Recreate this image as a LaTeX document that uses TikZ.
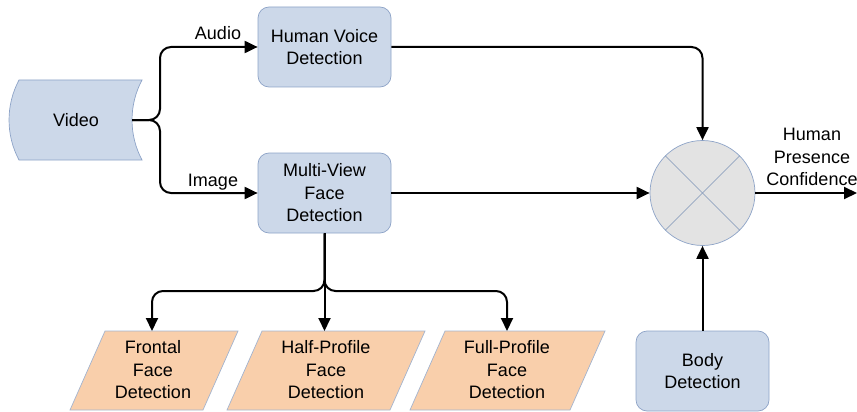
\documentclass[tikz,border=0pt]{standalone}
\usepackage{fontspec}
\setmainfont{Liberation Sans}
\usetikzlibrary{arrows.meta}
\definecolor{boxfill}{HTML}{CCD8E9}
\definecolor{boxline}{HTML}{8DA3C7}
\definecolor{parfill}{HTML}{F9CFAB}
\definecolor{parline}{HTML}{A3B4CF}
\definecolor{mixfill}{HTML}{E3E3E3}
\definecolor{mixcross}{HTML}{7F95B8}
\begin{document}
\begin{tikzpicture}[x=1pt,y=-1pt,
  font=\fontsize{18}{22.5}\selectfont,
  proc/.style={draw=boxline, fill=boxfill, line width=0.7pt, rounded corners=11pt,
    minimum width=133pt, minimum height=80pt, align=center, inner sep=0pt},
  datashape/.style={draw=boxline, fill=boxfill, line width=0.7pt},
  paral/.style={draw=parline, fill=parfill, line width=0.7pt},
  conn/.style={line width=2pt, -{Triangle[length=13pt,width=12pt]}, rounded corners=11pt},
  lbl/.style={align=center, inner sep=0pt}]
\useasboundingbox (0,0) rectangle (857,412);

% video source (stored-data shape)
\draw[datashape] (19,80) -- (142,80) .. controls (128.7,105) and (128.7,135) .. (142,160)
  -- (19,160) .. controls (5.7,135) and (5.7,105) .. (19,80) -- cycle;
\node[lbl] (video) at (76,120) {Video};
\coordinate (vsplit) at (132,120);

% processing boxes
\node[proc] (hv) at (324.5,47) {Human Voice\\Detection};
\node[proc] (mv) at (324.5,193) {Multi-View\\Face\\Detection};
\node[proc] (body) at (702.5,371) {Body\\Detection};

% fusion circle
\node[circle, draw=boxline, fill=mixfill, line width=0.7pt, minimum size=105pt, inner sep=0pt]
  (mix) at (702.5,193) {};
\draw[mixcross, line width=0.6pt] (mix.north west) -- (mix.south east);
\draw[mixcross, line width=0.6pt] (mix.north east) -- (mix.south west);

% face detector variants
\draw[paral] (105,331) -- (238,331) -- (203,410) -- (70,410) -- cycle;
\node[lbl] (front) at (153,370) {Frontal\\Face\\Detection};
\draw[paral] (262,331) -- (425,331) -- (390,410) -- (227,410) -- cycle;
\node[lbl] (half) at (326,370) {Half-Profile\\Face\\Detection};
\draw[paral] (445,331) -- (605,331) -- (570,410) -- (410,410) -- cycle;
\node[lbl] (full) at (507,370) {Full-Profile\\Face\\Detection};
\coordinate (frTop) at (152,331);
\coordinate (hpTop) at (324.5,331);
\coordinate (fpTop) at (507,331);

% connectors
\draw[conn] (vsplit) -- (160,120) -- (160,47) -- (hv.west);
\draw[conn] (vsplit) -- (160,120) -- (160,193) -- (mv.west);
\node[lbl] (audio) at (218,33) {Audio};
\node[lbl] (image) at (213,182) {Image};

\draw[conn] (hv.east) -- (mix.north |- hv.east) -- (mix.north);
\draw[conn] (mv.east) -- (mix.west);
\draw[conn] (body.north) -- (mix.south);
\coordinate (outEnd) at (857,193);
\draw[conn] (mix.east) -- (outEnd);
\node[lbl] (hpc) at (812,157) {Human\\Presence\\Confidence};

\draw[conn] (mv.south) -- (324.5,291) -- (152,291) -- (frTop);
\draw[conn] (mv.south) -- (324.5,291) -- (507,291) -- (fpTop);
\draw[conn] (mv.south) -- (hpTop);
\end{tikzpicture}
\end{document}
